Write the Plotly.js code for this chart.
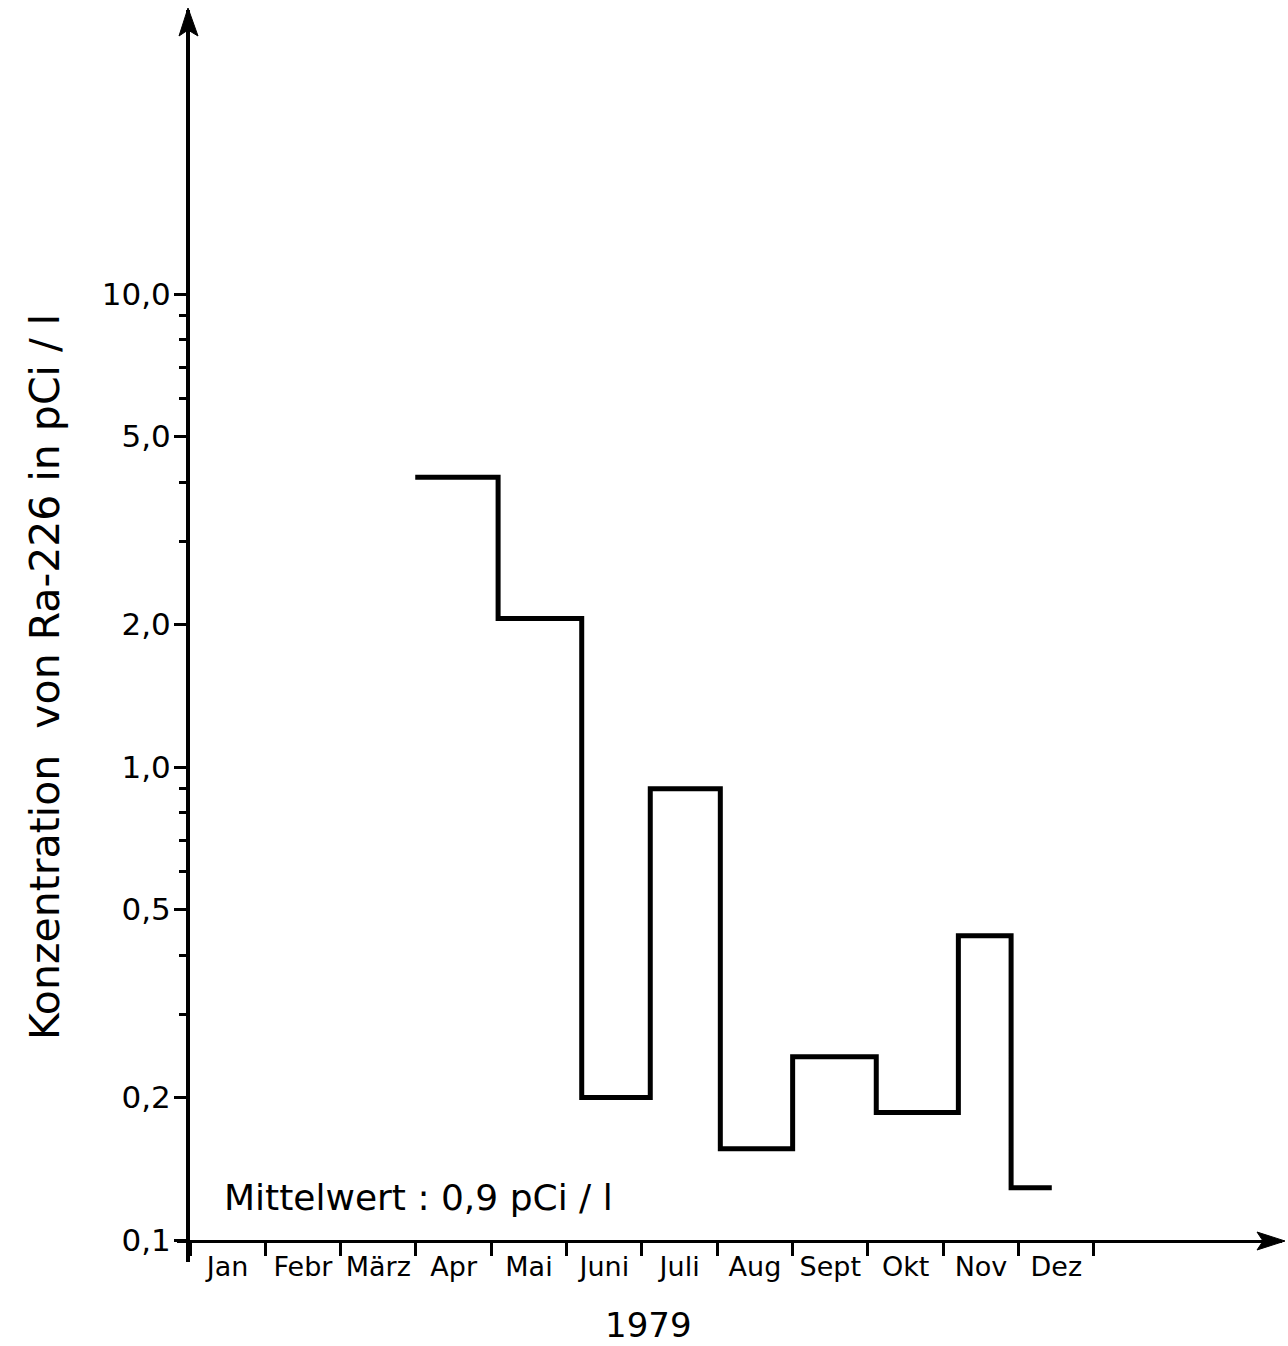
<!DOCTYPE html>
<html>
<head>
<meta charset="utf-8">
<script src="https://cdn.plot.ly/plotly-3.0.1.min.js"></script>
<style>html,body{margin:0;padding:0;background:#fff;}#chart{width:1288px;height:1346px;}</style>
</head>
<body>
<div id="chart"></div>
<script>
// ---- data ----
const months = ['Jan', 'Febr', 'März', 'Apr', 'Mai', 'Juni', 'Juli', 'Aug', 'Sept', 'Okt', 'Nov', 'Dez'];
const monthBoundaries = [0, 1, 2, 3, 4, 5, 6, 7, 8, 9, 10, 11, 12];
// step edges (in months from 1 Jan) and concentration of each step (pCi/l)
const stepEdges = [2.99, 4.09, 5.20, 6.11, 7.04, 8.00, 9.11, 10.20, 10.90, 11.44];
const concentration = [4.1, 2.06, 0.2, 0.9, 0.156, 0.244, 0.186, 0.44, 0.129];
const yTickVals = [0.1, 0.2, 0.5, 1, 2, 5, 10];
const yTickText = ['0,1', '0,2', '0,5', '1,0', '2,0', '5,0', '10,0'];
const yMinorVals = [0.3, 0.4, 0.6, 0.7, 0.8, 0.9, 3, 4, 6, 7, 8, 9];
const yTitle = 'Konzentration  von Ra-226 in pCi / l';
const meanText = 'Mittelwert : 0,9 pCi / l';
const yearText = '1979';

// ---- layout geometry ----
const W = 1288, H = 1346;
const ml = 190, mr = 6, mt = 10, mb = 106;
const pw = W - ml - mr, ph = H - mt - mb;
const monthPx = 75.33;
const decadePx = 473;
const xMax = pw / monthPx;
const yTopLog = -1 + ph / decadePx;
const px2paperX = p => (p - ml) / pw;
const px2paperY = p => (H - mb - p) / ph;

const font = 'DejaVu Sans, Liberation Sans, sans-serif';
const monthCenters = months.map((m, i) => i + 0.5);

const stepY = concentration.concat([concentration[concentration.length - 1]]);

const traces = [
  {
    x: stepEdges, y: stepY, type: 'scatter', mode: 'lines',
    line: {shape: 'hv', color: '#000', width: 5},
    hoverinfo: 'skip', showlegend: false
  },
  {
    x: monthCenters, y: monthCenters.map(() => 1), xaxis: 'x2', yaxis: 'y',
    type: 'scatter', mode: 'markers', marker: {opacity: 0}, hoverinfo: 'skip', showlegend: false
  }
];

const layout = {
  width: W, height: H,
  margin: {l: ml, r: mr, t: mt, b: mb, pad: 0},
  paper_bgcolor: '#fff', plot_bgcolor: '#fff',
  font: {family: font, color: '#000'},
  showlegend: false,
  xaxis: {
    range: [0, xMax], showgrid: false, zeroline: false,
    showline: true, linecolor: '#000', linewidth: 3,
    tickmode: 'array', tickvals: monthBoundaries, ticktext: monthBoundaries.map(() => ''),
    ticks: 'outside', ticklen: 13, tickwidth: 3, tickcolor: '#000',
    showticklabels: false, fixedrange: true
  },
  xaxis2: {
    overlaying: 'x', anchor: 'y', side: 'bottom',
    range: [0, xMax], showgrid: false, zeroline: false, showline: false,
    tickmode: 'array', tickvals: monthCenters, ticktext: months,
    ticks: '', ticklabelstandoff: 8,
    tickfont: {family: font, size: 27, color: '#000'}, fixedrange: true
  },
  yaxis: {
    type: 'log', range: [-1, yTopLog], showgrid: false, zeroline: false,
    showline: true, linecolor: '#000', linewidth: 4,
    tickmode: 'array', tickvals: yTickVals, ticktext: yTickText,
    ticks: 'outside', ticklen: 12, tickwidth: 3, tickcolor: '#000',
    ticklabelstandoff: -3,
    tickfont: {family: font, size: 31, color: '#000'},
    minor: {tickmode: 'array', tickvals: yMinorVals, ticks: 'outside', ticklen: 7, tickwidth: 3, tickcolor: '#000', showgrid: false},
    fixedrange: true
  },
  annotations: [
    {
      text: yTitle, xref: 'paper', yref: 'paper', x: px2paperX(45), y: px2paperY(677),
      xanchor: 'center', yanchor: 'middle', textangle: -90, showarrow: false,
      font: {family: font, size: 41, color: '#000'}
    },
    {
      text: meanText, xref: 'paper', yref: 'paper', x: px2paperX(222), y: px2paperY(1197),
      xanchor: 'left', yanchor: 'middle', showarrow: false,
      font: {family: font, size: 36, color: '#000'}
    },
    {
      text: yearText, xref: 'paper', yref: 'paper', x: px2paperX(648), y: px2paperY(1325),
      xanchor: 'center', yanchor: 'middle', showarrow: false,
      font: {family: font, size: 34, color: '#000'}
    }
  ],
  shapes: [
    // y-axis arrowhead
    {type: 'path', xref: 'paper', yref: 'paper', xsizemode: 'pixel', ysizemode: 'pixel',
     xanchor: 0, yanchor: 1, path: 'M-2,2 L-11,-26 L-2,-20 L8,-26 Z',
     fillcolor: '#000', line: {color: '#000', width: 1}},
    // x-axis arrowhead
    {type: 'path', xref: 'paper', yref: 'paper', xsizemode: 'pixel', ysizemode: 'pixel',
     xanchor: 1, yanchor: 0, path: 'M3,-1 L-25,8 L-19,-1 L-25,-10 Z',
     fillcolor: '#000', line: {color: '#000', width: 1}},
    // y-axis overhang below origin
    {type: 'path', xref: 'paper', yref: 'paper', xsizemode: 'pixel', ysizemode: 'pixel',
     xanchor: 0, yanchor: 0, path: 'M-2,0 L-2,-22', line: {color: '#000', width: 4}},
    // x-axis overhang left of origin
    {type: 'path', xref: 'paper', yref: 'paper', xsizemode: 'pixel', ysizemode: 'pixel',
     xanchor: 0, yanchor: 0, path: 'M0,-1.5 L-13,-1.5', line: {color: '#000', width: 3}}
  ]
};

Plotly.newPlot('chart', traces, layout, {staticPlot: true, displayModeBar: false});
</script>
</body>
</html>
